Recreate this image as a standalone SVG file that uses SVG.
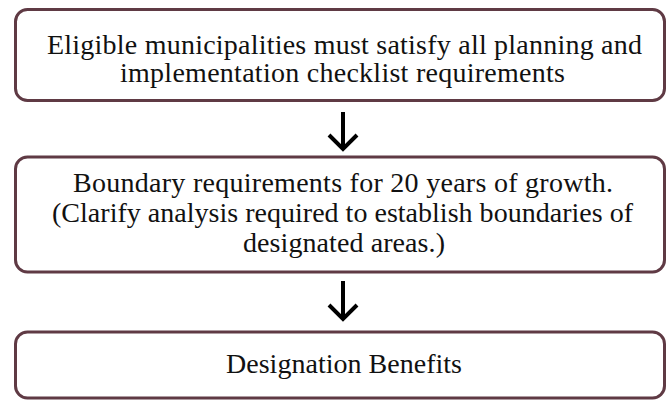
<svg xmlns="http://www.w3.org/2000/svg" width="670" height="400" viewBox="0 0 670 400">
  <style>
    .box { fill: #ffffff; stroke: #5f3a44; stroke-width: 3; }
    .label { font-family: "Liberation Serif", "Times New Roman", serif; font-size: 28px; fill: #111111; text-anchor: middle; }
    .arrow { fill: none; stroke: #000000; stroke-width: 4; }
  </style>
  <defs>
    <marker id="chev" markerUnits="userSpaceOnUse" orient="auto" overflow="visible" markerWidth="1" markerHeight="1" refX="0" refY="0">
      <path d="M-14,-14 L0,0 L-14,14" fill="none" stroke="#000000" stroke-width="4"/>
    </marker>
  </defs>
  <rect width="670" height="400" fill="#ffffff"/>

  <g id="node-checklist">
    <rect class="box" x="15.5" y="9.5" width="649" height="91" rx="12" ry="12"/>
    <text class="label" x="344.5" y="54" textLength="595">Eligible municipalities must satisfy all planning and</text>
    <text class="label" x="342.5" y="82" textLength="445">implementation checklist requirements</text>
  </g>

  <g id="node-boundary">
    <rect class="box" x="15.5" y="157" width="649" height="115" rx="12" ry="12"/>
    <text class="label" x="343" y="192" textLength="540">Boundary requirements for 20 years of growth.</text>
    <text class="label" x="342.5" y="222" textLength="581">(Clarify analysis required to establish boundaries of</text>
    <text class="label" x="344" y="252" textLength="202">designated areas.)</text>
  </g>

  <g id="node-benefits">
    <rect class="box" x="15.5" y="332" width="649" height="66" rx="12" ry="12"/>
    <text class="label" x="344" y="373" textLength="236">Designation Benefits</text>
  </g>

  <g id="connectors">
    <path class="arrow" d="M343,112 L343,149" marker-end="url(#chev)"/>
    <path class="arrow" d="M343,281 L343,319" marker-end="url(#chev)"/>
  </g>
</svg>
